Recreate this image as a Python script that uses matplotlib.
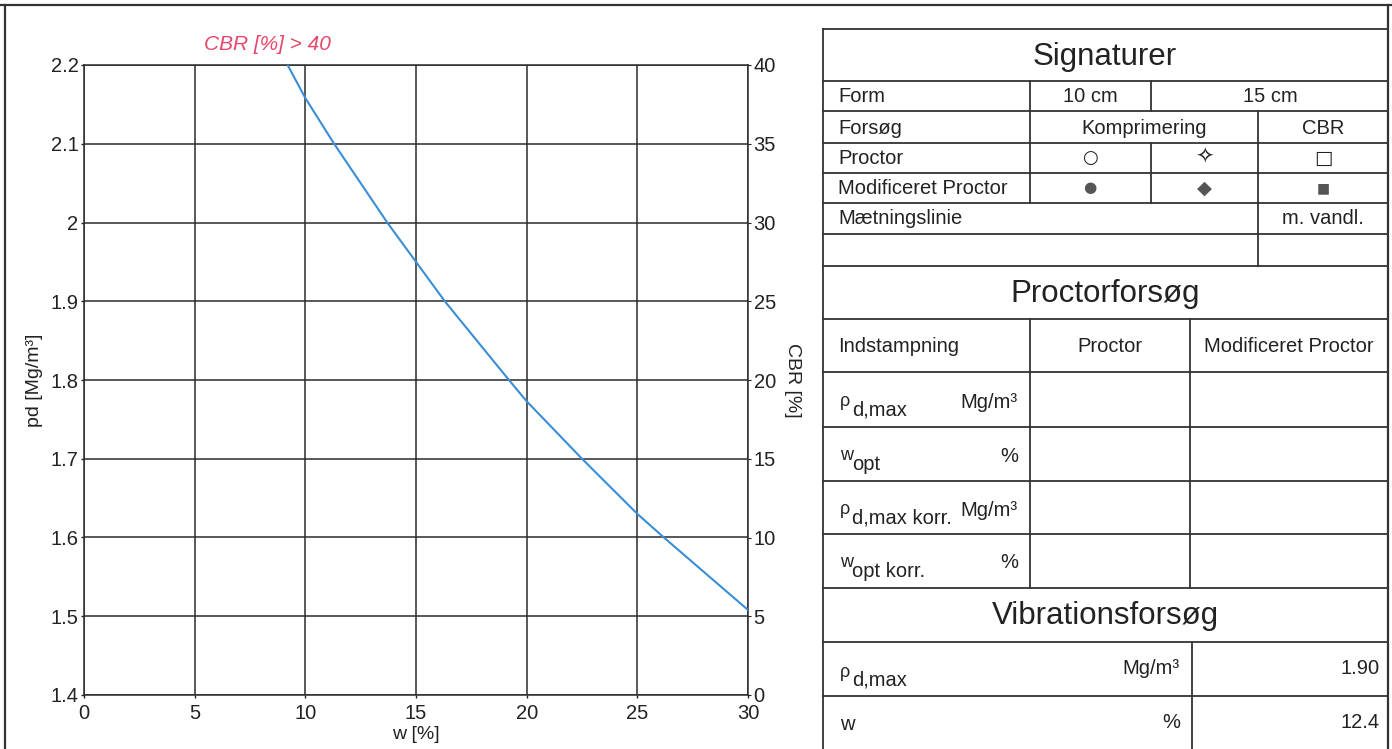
import matplotlib
matplotlib.use('Agg')
import matplotlib.pyplot as plt
import numpy as np

plt.rcParams['font.family'] = ['Liberation Sans', 'DejaVu Sans']

# saettningslinie (grid crossings)
w_sat = [9.2, 10, 11.3, 13.7, 15, 16.3, 19.2, 20, 22.5, 25, 26.2, 30]
rho_sat = [2.2, 2.158, 2.1, 2.0, 1.95, 1.9, 1.8, 1.773, 1.7, 1.630, 1.6, 1.508]

x_ticks = [0, 5, 10, 15, 20, 25, 30]
y_ticks = [1.4, 1.5, 1.6, 1.7, 1.8, 1.9, 2.0, 2.1, 2.2]
y_labels = ['1.4', '1.5', '1.6', '1.7', '1.8', '1.9', '2', '2.1', '2.2']
cbr_ticks = [0, 5, 10, 15, 20, 25, 30, 35, 40]

# vibrationsforsoeg results
vib_rho = '1.90'
vib_w = '12.4'

W, H = 1392, 749
ink = '#222222'
grid_col = '#2b2b2b'

fig = plt.figure(figsize=(W / 100, H / 100), dpi=100)

ax = fig.add_axes([84 / W, 1 - 695 / H, (748 - 84) / W, (695 - 65) / H])
ax.plot(w_sat, rho_sat, color='#3a8ed6', lw=1.5, zorder=3)
ax.set_xlim(0, 30)
ax.set_ylim(1.4, 2.2)
ax.set_xticks(x_ticks)
ax.set_yticks(y_ticks)
ax.set_yticklabels(y_labels)
ax.grid(True, color=grid_col, lw=1.1)
for s in ax.spines.values():
    s.set_color(grid_col)
    s.set_linewidth(1.1)
ax.tick_params(labelsize=14.5, colors=ink, length=2.5, pad=1.5, width=1)
ax.tick_params(axis='x', pad=4)
ax.set_xlabel('w [%]', fontsize=14, color=ink, labelpad=2)
ax.set_ylabel('pd [Mg/m³]', fontsize=14, color=ink)
ax.yaxis.set_label_coords(-0.061, 0.5)

ax2 = ax.twinx()
ax2.set_ylim(0, 40)
ax2.set_yticks(cbr_ticks)
ax2.tick_params(labelsize=14.5, colors=ink, length=2.5, pad=1.5)
for s in ax2.spines.values():
    s.set_visible(False)
ax2.set_ylabel('CBR [%]', fontsize=14, color=ink, rotation=270)
ax2.yaxis.set_label_coords(1.08, 0.5)

# overlay in pixel coords for frame + table
t = fig.add_axes([0, 0, 1, 1], facecolor='none')
t.set_xlim(0, W)
t.set_ylim(H, 0)
t.axis('off')

t.text(267, 45, 'CBR [%] > 40', color='#e8466a', fontsize=15, style='italic',
       ha='center', va='center')

lc = '#333333'
t.plot([0, W], [5, 5], color=lc, lw=1.6)
t.plot([5, 5], [5, H], color=lc, lw=1.6)
t.plot([1388, 1388], [5, H], color=lc, lw=1.6)

L, R = 823, 1388
t.plot([L, L], [29, H], color=lc, lw=1.3)
for y in [29, 81, 111, 143, 173, 203, 234, 266, 319, 372, 427, 481, 534, 588, 642, 696]:
    t.plot([L, R], [y, y], color=lc, lw=1.3)

vlines = [(1030, 81, 203), (1151, 81, 111), (1151, 143, 203), (1258, 111, 266),
          (1030, 319, 588), (1190, 319, 588), (1192, 642, H)]
for x, y0, y1 in vlines:
    t.plot([x, x], [y0, y1], color=lc, lw=1.3)

fs = 14.5
big = 22.5
t.text(1105, 57, 'Signaturer', fontsize=big, color=ink, ha='center', va='center')
t.text(1105, 294, 'Proctorforsøg', fontsize=big, color=ink, ha='center', va='center')
t.text(1105, 616, 'Vibrationsforsøg', fontsize=big, color=ink, ha='center', va='center')

t.text(838, 97, 'Form', fontsize=fs, color=ink, va='center')
t.text(1090, 97, '10 cm', fontsize=fs, color=ink, ha='center', va='center')
t.text(1270, 97, '15 cm', fontsize=fs, color=ink, ha='center', va='center')
t.text(838, 128, 'Forsøg', fontsize=fs, color=ink, va='center')
t.text(1144, 128, 'Komprimering', fontsize=fs, color=ink, ha='center', va='center')
t.text(1323, 128, 'CBR', fontsize=fs, color=ink, ha='center', va='center')
t.text(838, 158, 'Proctor', fontsize=fs, color=ink, va='center')
t.text(838, 188, 'Modificeret Proctor', fontsize=fs, color=ink, va='center')
t.text(838, 219, 'Mætningslinie', fontsize=fs, color=ink, va='center')
t.text(1323, 219, 'm. vandl.', fontsize=fs, color=ink, ha='center', va='center')

sym = ['○', '✧', '□']
sym_fill = ['●', '◆', '■']
sym_x = [1090, 1204, 1323]
for s, x, sz in zip(sym, sym_x, [13, 16, 14]):
    t.text(x, 158, s, fontsize=sz, color=ink, ha='center', va='center',
           family='DejaVu Sans')
for s, x, sz in zip(sym_fill, sym_x, [11, 14, 10]):
    t.text(x, 188, s, fontsize=sz, color='#555555', ha='center', va='center',
           family='DejaVu Sans')

t.text(838, 347, 'Indstampning', fontsize=fs, color=ink, va='center')
t.text(1110, 347, 'Proctor', fontsize=fs, color=ink, ha='center', va='center')
t.text(1289, 347, 'Modificeret Proctor', fontsize=fs, color=ink, ha='center', va='center')

# proctor rows: small symbol + lowered subscript + unit on the right
rows = [(373, 'ρ', 'd,max', 'Mg/m³'), (427, 'w', 'opt', '%'),
        (481, 'ρ', 'd,max korr.', 'Mg/m³'), (534, 'w', 'opt korr.', '%')]
for top, main, sub, unit in rows:
    t.text(840, top + 33, main, fontsize=13, color=ink, va='baseline')
    t.text(852, top + 43, sub, fontsize=fs, color=ink, va='baseline')
    t.text(1018, top + 29, unit, fontsize=fs, color=ink, ha='right', va='center')

t.text(840, 677, 'ρ', fontsize=13, color=ink, va='baseline')
t.text(852, 686, 'd,max', fontsize=fs, color=ink, va='baseline')
t.text(1180, 668, 'Mg/m³', fontsize=fs, color=ink, ha='right', va='center')
t.text(1380, 669, vib_rho, fontsize=fs, color=ink, ha='right', va='center')
t.text(840, 724, 'w', fontsize=fs, color=ink, va='center')
t.text(1180, 722, '%', fontsize=fs, color=ink, ha='right', va='center')
t.text(1380, 722, vib_w, fontsize=fs, color=ink, ha='right', va='center')

fig.savefig('out.png', dpi=100)
